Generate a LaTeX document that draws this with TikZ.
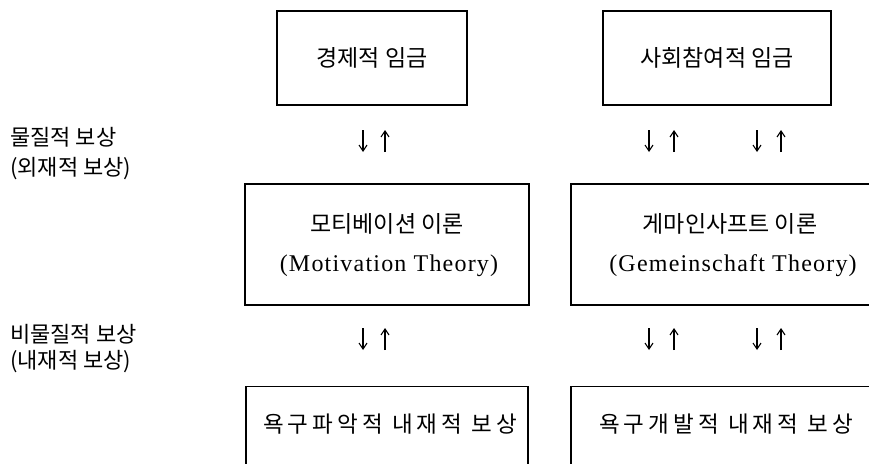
\documentclass[tikz,border=0pt]{standalone}
\usepackage{fontspec}
\setmainfont{Liberation Serif}
\newfontfamily\kr{Noto Sans CJK KR}
\newfontfamily\krwide{Noto Sans CJK KR}[LetterSpace=18]
\newfontfamily\lat{Liberation Serif}[LetterSpace=5]
\usetikzlibrary{arrows.meta}

\begin{document}
\begin{tikzpicture}[x=1pt,y=-1pt,
  box/.style={draw, line width=1.2pt, rectangle, inner sep=0pt},
  ko/.style={font=\fontsize{22}{26}\selectfont\kr, inner sep=0pt},
  kobig/.style={font=\fontsize{23}{27}\selectfont\kr, inner sep=0pt},
  kowide/.style={font=\fontsize{22.5}{26}\selectfont\krwide, inner sep=0pt},
  en/.style={font=\fontsize{24}{28}\selectfont\lat, inner sep=0pt},
  arr/.style={line width=1.1pt, -{Straight Barb[length=6pt,width=8pt,line width=1.1pt]}}
]
\useasboundingbox (0,0) rectangle (869,463);
\clip (0,0) rectangle (869,463);

% row labels
\node[ko, anchor=west] (mat)   at (10,137) {물질적 보상};
\node[ko, anchor=west] (matx)  at (10,169) {(외재적 보상)};
\node[ko, anchor=west] (nmat)  at (10,334) {비물질적 보상};
\node[ko, anchor=west] (nmatx) at (10,362) {(내재적 보상)};

% top boxes
\node[box, kobig, minimum width=190pt, minimum height=94pt] (econ) at (372,58) {경제적 임금};
\node[box, kobig, minimum width=228pt, minimum height=94pt] (soc)  at (717,58) {사회참여적 임금};

% middle boxes
\node[box, minimum width=284pt, minimum height=121pt] (moti) at (387,244.5) {};
\node[kobig] (motik) at (387,224) {모티베이션 이론};
\node[en] (motie) at (389,266) {(Motivation Theory)};

\node[box, minimum width=318pt, minimum height=121pt] (gem) at (730,244.5) {};
\node[kobig] (gemk) at (730,224) {게마인사프트 이론};
\node[en] (geme) at (733,266) {(Gemeinschaft Theory)};

% bottom boxes
\node[box, anchor=north, minimum width=282pt, minimum height=121pt] (need1) at (387,386) {};
\node[kowide] (need1t) at (390,424) {욕구파악적 내재적 보상};
\node[box, anchor=north, minimum width=304pt, minimum height=121pt] (need2) at (723,386) {};
\node[kowide] (need2t) at (726,424) {욕구개발적 내재적 보상};

% arrow end points, upper row
\foreach \n/\x in {a/363, b/649, c/757} {
  \coordinate (\n1) at (\x,130);
  \coordinate (\n2) at (\x,152);
}
\foreach \n/\x in {d/385, e/674, f/781} {
  \coordinate (\n1) at (\x,130);
  \coordinate (\n2) at (\x,152);
}
% arrow end points, lower row
\foreach \n/\x in {g/363, h/649, i/757} {
  \coordinate (\n1) at (\x,328);
  \coordinate (\n2) at (\x,350);
}
\foreach \n/\x in {j/385, k/674, l/781} {
  \coordinate (\n1) at (\x,328);
  \coordinate (\n2) at (\x,350);
}

\draw[arr] (a1) -- (a2);  \draw[arr] (d2) -- (d1);
\draw[arr] (b1) -- (b2);  \draw[arr] (e2) -- (e1);
\draw[arr] (c1) -- (c2);  \draw[arr] (f2) -- (f1);
\draw[arr] (g1) -- (g2);  \draw[arr] (j2) -- (j1);
\draw[arr] (h1) -- (h2);  \draw[arr] (k2) -- (k1);
\draw[arr] (i1) -- (i2);  \draw[arr] (l2) -- (l1);
\end{tikzpicture}
\end{document}
